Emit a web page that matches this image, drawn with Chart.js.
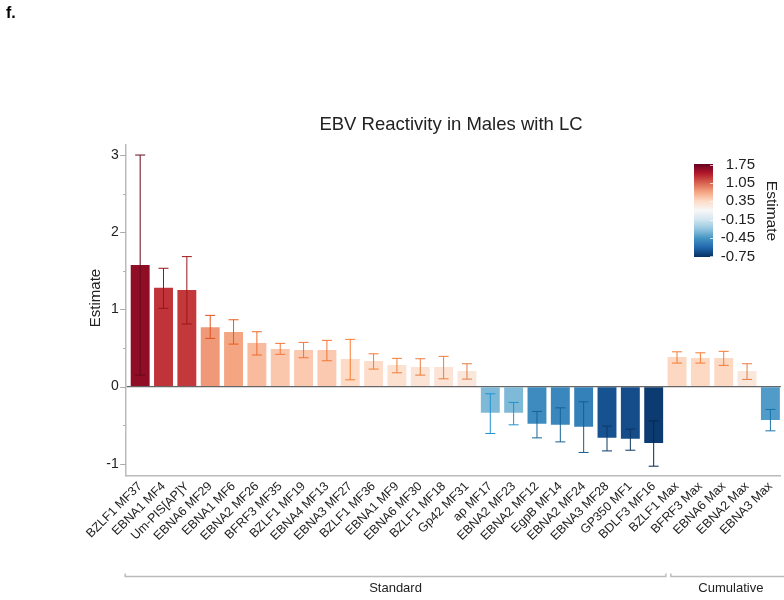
<!DOCTYPE html>
<html>
<head>
<meta charset="utf-8">
<script src="https://cdn.jsdelivr.net/npm/chart.js@4.4.1/dist/chart.umd.min.js"></script>
<style>
  html, body { margin: 0; padding: 0; background: #fff; overflow: hidden; }
</style>
</head>
<body>
<canvas id="myChart" width="784" height="600"></canvas>
<script>
// antigen / peptide names along the x axis
const antigens = [
  "BZLF1 MF37", "EBNA1 MF4", "Um-PIS[AP]Y", "EBNA6 MF29", "EBNA1 MF6",
  "EBNA2 MF26", "BFRF3 MF35", "BZLF1 MF19", "EBNA4 MF13", "EBNA3 MF27",
  "BZLF1 MF36", "EBNA1 MF9", "EBNA6 MF30", "BZLF1 MF18", "Gp42 MF31",
  "ap MF17", "EBNA2 MF23", "EBNA2 MF12", "EgpB MF14", "EBNA2 MF24",
  "EBNA3 MF28", "GP350 MF1", "BDLF3 MF16",
  "BZLF1 Max", "BFRF3 Max", "EBNA6 Max", "EBNA2 Max", "EBNA3 Max"
];
const estimates = [
  1.576, 1.281, 1.252, 0.768, 0.707,
  0.564, 0.486, 0.473, 0.473, 0.357,
  0.331, 0.279, 0.253, 0.253, 0.201,
  -0.340, -0.340, -0.482, -0.495, -0.521,
  -0.664, -0.677, -0.730,
  0.383, 0.370, 0.370, 0.201, -0.431
];
const lowerCI = [
  0.149, 1.014, 0.811, 0.625, 0.551,
  0.409, 0.418, 0.374, 0.335, 0.088,
  0.227, 0.179, 0.149, 0.101, 0.097,
  -0.607, -0.495, -0.664, -0.716, -0.853,
  -0.833, -0.824, -1.031,
  0.305, 0.305, 0.275, 0.093, -0.573
];
const upperCI = [
  3.000, 1.533, 1.684, 0.923, 0.866,
  0.711, 0.560, 0.573, 0.599, 0.612,
  0.425, 0.366, 0.361, 0.392, 0.296,
  -0.093, -0.205, -0.322, -0.275, -0.197,
  -0.512, -0.551, -0.444,
  0.451, 0.438, 0.457, 0.296, -0.296
];
const groupNames = ["Standard", "Cumulative"];
const groupFirst = [0, 23];
const groupLast = [22, 27];
const colorbarTicks = [1.75, 1.05, 0.35, -0.15, -0.45, -0.75];
const yTicks = [-1, 0, 1, 2, 3];

const COLOR_MAX = 1.77;
const COLOR_MIN = -0.76;
const FONT = "'Liberation Sans', Arial, Helvetica, sans-serif";
const TEXT = "#222";

// RdBu, red end first
const rdbu = ["#67001f", "#b2182b", "#d6604d", "#f4a582", "#fddbc7", "#f7f7f7",
              "#d1e5f0", "#92c5de", "#4393c3", "#2166ac", "#053061"];

const hexToRgb = (h) => [1, 3, 5].map((k) => parseInt(h.slice(k, k + 2), 16));

function rdbuAt(t) {
  t = Math.min(1, Math.max(0, t));
  const p = t * (rdbu.length - 1);
  const i = Math.min(rdbu.length - 2, Math.floor(p));
  const f = p - i;
  const a = hexToRgb(rdbu[i]);
  const b = hexToRgb(rdbu[i + 1]);
  return a.map((c, k) => Math.round(c + (b[k] - c) * f));
}

// diverging scale centred on zero: 0 = top (red), 1 = bottom (blue)
function scaleT(v) {
  return v >= 0 ? 0.5 - 0.5 * v / COLOR_MAX : 0.5 + 0.5 * v / COLOR_MIN;
}

function rgbToHsl([r, g, b]) {
  r /= 255; g /= 255; b /= 255;
  const max = Math.max(r, g, b), min = Math.min(r, g, b);
  let h = 0, s = 0;
  const l = (max + min) / 2;
  if (max !== min) {
    const d = max - min;
    s = l > 0.5 ? d / (2 - max - min) : d / (max + min);
    if (max === r) h = (g - b) / d + (g < b ? 6 : 0);
    else if (max === g) h = (b - r) / d + 2;
    else h = (r - g) / d + 4;
    h *= 60;
  }
  return [h, s, l];
}

const fillColor = (v) => "rgb(" + rdbuAt(scaleT(v)).join(",") + ")";

// whiskers: same hue, more saturated and darker
function whiskerColor(v) {
  const [h, s, l] = rgbToHsl(rdbuAt(scaleT(v)));
  const s2 = Math.max(s, 0.75);
  const l2 = Math.min(l * 0.7, 0.58);
  return "hsl(" + h.toFixed(1) + "," + (s2 * 100).toFixed(1) + "%," + (l2 * 100).toFixed(1) + "%)";
}

const extras = {
  id: "extras",
  afterDatasetsDraw(chart) {
    const { ctx } = chart;
    const xs = chart.scales.x;
    const ys = chart.scales.y;
    ctx.save();
    ctx.lineWidth = 1;
    estimates.forEach((v, i) => {
      const x = xs.getPixelForValue(i);
      const y1 = ys.getPixelForValue(upperCI[i]);
      const y2 = ys.getPixelForValue(lowerCI[i]);
      ctx.strokeStyle = whiskerColor(v);
      ctx.beginPath();
      ctx.moveTo(x, y1); ctx.lineTo(x, y2);
      ctx.moveTo(x - 5, y1); ctx.lineTo(x + 5, y1);
      ctx.moveTo(x - 5, y2); ctx.lineTo(x + 5, y2);
      ctx.stroke();
    });
    ctx.restore();
  },
  afterDraw(chart) {
    const { ctx, chartArea } = chart;
    const xs = chart.scales.x;
    const ys = chart.scales.y;
    ctx.save();

    // y tick marks, long on whole numbers
    ctx.strokeStyle = "#aaa";
    ctx.lineWidth = 1;
    ys.ticks.forEach((t) => {
      const y = Math.round(ys.getPixelForValue(t.value)) + 0.5;
      const len = Number.isInteger(t.value) ? 5.5 : 2.5;
      ctx.beginPath();
      ctx.moveTo(chartArea.left - len, y);
      ctx.lineTo(chartArea.left, y);
      ctx.stroke();
    });

    ctx.fillStyle = "#000";
    ctx.font = "bold 16px " + FONT;
    ctx.textAlign = "left";
    ctx.textBaseline = "alphabetic";
    ctx.fillText("f.", 6, 18);

    ctx.fillStyle = TEXT;
    ctx.font = "18.5px " + FONT;
    ctx.textAlign = "center";
    ctx.fillText("EBV Reactivity in Males with LC", 451, 130);

    // y axis title
    ctx.save();
    ctx.translate(100, 298);
    ctx.rotate(-Math.PI / 2);
    ctx.font = "15px " + FONT;
    ctx.textAlign = "center";
    ctx.textBaseline = "alphabetic";
    ctx.fillText("Estimate", 0, 0);
    ctx.restore();

    // colour bar
    const cbL = 694, cbR = 713, cbT = 164, cbB = 257;
    const cbY = (v) => cbT + scaleT(v) * (cbB - cbT);
    const grad = ctx.createLinearGradient(0, cbT, 0, cbB);
    rdbu.forEach((c, i) => grad.addColorStop(i / (rdbu.length - 1), c));
    ctx.fillStyle = grad;
    ctx.fillRect(cbL, cbT, cbR - cbL, cbB - cbT);
    ctx.strokeStyle = "rgba(255,255,255,0.7)";
    colorbarTicks.forEach((v) => {
      const y = Math.round(cbY(v)) + 0.5;
      ctx.beginPath();
      ctx.moveTo(cbR - 3, y); ctx.lineTo(cbR, y);
      ctx.stroke();
    });
    ctx.fillStyle = TEXT;
    ctx.font = "15px " + FONT;
    ctx.textAlign = "right";
    ctx.textBaseline = "middle";
    colorbarTicks.forEach((v) => ctx.fillText(v.toFixed(2), 755, cbY(v)));
    ctx.save();
    ctx.translate(771, 211);
    ctx.rotate(Math.PI / 2);
    ctx.font = "15.5px " + FONT;
    ctx.textAlign = "center";
    ctx.textBaseline = "middle";
    ctx.fillText("Estimate", 0, 0);
    ctx.restore();

    // group brackets under the axis labels
    const by = 576.5;
    ctx.strokeStyle = "#bbb";
    ctx.lineWidth = 1.5;
    ctx.font = "13px " + FONT;
    ctx.textAlign = "center";
    ctx.textBaseline = "alphabetic";
    groupNames.forEach((name, g) => {
      const left = g === 0 ? chartArea.left - 0.5 : xs.getPixelForValue(groupFirst[g] - 0.5) + 5.5;
      const right = g === groupNames.length - 1
        ? chartArea.right + 10
        : xs.getPixelForValue(groupLast[g] + 0.5) + 0.5;
      ctx.beginPath();
      ctx.moveTo(left, by - 3); ctx.lineTo(left, by);
      ctx.lineTo(right, by); ctx.lineTo(right, by - 3);
      ctx.stroke();
      ctx.fillStyle = TEXT;
      ctx.fillText(name, (left + right) / 2, 592);
    });
    ctx.restore();
  }
};

const ctx = document.getElementById("myChart").getContext("2d");
new Chart(ctx, {
  type: "bar",
  data: {
    datasets: [{
      data: estimates.map((v, i) => ({ x: i, y: v })),
      backgroundColor: estimates.map(fillColor),
      borderWidth: 0,
      barPercentage: 0.9,
      categoryPercentage: 0.9,
    }],
  },
  options: {
    responsive: false,
    animation: false,
    layout: { padding: { top: 145, left: 0, right: 0, bottom: 0 } },
    plugins: {
      legend: { display: false },
      tooltip: { enabled: false },
    },
    scales: {
      x: {
        type: "linear",
        min: -0.62,
        max: 27.45,
        offset: false,
        grid: { display: false, drawTicks: false, offset: false },
        border: { color: "#bbb", width: 1.5 },
        afterBuildTicks: (scale) => {
          scale.ticks = antigens.map((_, i) => ({ value: i }));
        },
        afterFit: (scale) => { scale.height = 124; },
        ticks: {
          autoSkip: false,
          minRotation: 45,
          maxRotation: 45,
          padding: 3,
          color: TEXT,
          font: { family: FONT, size: 12.5 },
          callback: (value) => antigens[value],
        },
      },
      y: {
        min: -1.158,
        max: 3.13,
        afterBuildTicks: (scale) => {
          const t = [];
          for (let v = -1; v <= 3; v += 0.5) t.push({ value: v });
          scale.ticks = t;
        },
        afterFit: (scale) => { scale.width = 125.7; },
        grid: {
          drawTicks: false,
          lineWidth: 1.3,
          color: (c) => (c.tick && c.tick.value === 0 ? "#666" : "rgba(0,0,0,0)"),
        },
        border: { color: "#bbb", width: 1.5 },
        ticks: {
          padding: 7,
          color: TEXT,
          font: { family: FONT, size: 14 },
          callback: (value) => (yTicks.includes(value) ? String(value) : ""),
        },
      },
    },
  },
  plugins: [extras],
});
</script>
</body>
</html>
